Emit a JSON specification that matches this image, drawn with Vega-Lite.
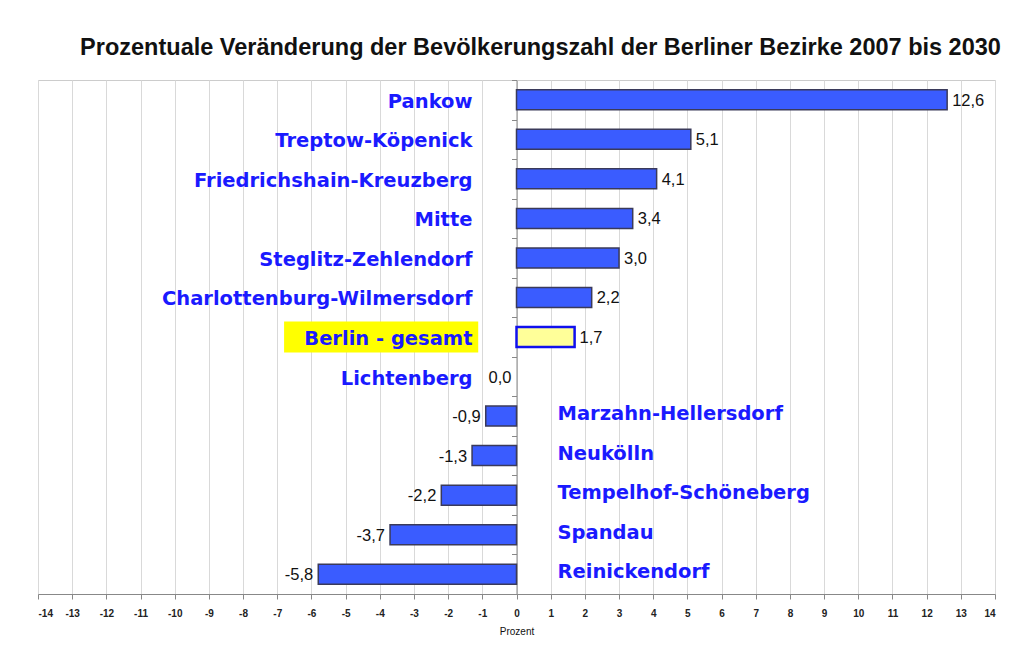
{
  "$schema": "https://vega.github.io/schema/vega-lite/v6.json",
  "autosize": "none",
  "width": 957,
  "height": 514,
  "padding": {"left": 38, "top": 80, "right": 22, "bottom": 64},
  "background": "white",
  "title": {
    "text": "Prozentuale Veränderung der Bevölkerungszahl der Berliner Bezirke 2007 bis 2030",
    "font": "Liberation Sans",
    "fontSize": 23.5,
    "fontWeight": "bold",
    "color": "#111",
    "anchor": "middle",
    "dx": 24,
    "offset": 20
  },
  "config": {
    "view": {"stroke": "#cccccc", "strokeWidth": 1},
    "font": "Liberation Sans",
    "axisX": {"tickCount": 28, "labelOverlap": false}
  },
  "data": {
    "values": [
      {"bezirk": "Pankow", "wert": 12.6, "label": "12,6", "gesamt": false},
      {"bezirk": "Treptow-Köpenick", "wert": 5.1, "label": "5,1", "gesamt": false},
      {"bezirk": "Friedrichshain-Kreuzberg", "wert": 4.1, "label": "4,1", "gesamt": false},
      {"bezirk": "Mitte", "wert": 3.4, "label": "3,4", "gesamt": false},
      {"bezirk": "Steglitz-Zehlendorf", "wert": 3.0, "label": "3,0", "gesamt": false},
      {"bezirk": "Charlottenburg-Wilmersdorf", "wert": 2.2, "label": "2,2", "gesamt": false},
      {"bezirk": "Berlin - gesamt", "wert": 1.7, "label": "1,7", "gesamt": true},
      {"bezirk": "Lichtenberg", "wert": 0.0, "label": "0,0", "gesamt": false},
      {"bezirk": "Marzahn-Hellersdorf", "wert": -0.9, "label": "-0,9", "gesamt": false},
      {"bezirk": "Neukölln", "wert": -1.3, "label": "-1,3", "gesamt": false},
      {"bezirk": "Tempelhof-Schöneberg", "wert": -2.2, "label": "-2,2", "gesamt": false},
      {"bezirk": "Spandau", "wert": -3.7, "label": "-3,7", "gesamt": false},
      {"bezirk": "Reinickendorf", "wert": -5.8, "label": "-5,8", "gesamt": false}
    ]
  },
  "encoding": {
    "y": {
      "field": "bezirk",
      "type": "nominal",
      "sort": ["Pankow", "Treptow-Köpenick", "Friedrichshain-Kreuzberg", "Mitte", "Steglitz-Zehlendorf", "Charlottenburg-Wilmersdorf", "Berlin - gesamt", "Lichtenberg", "Marzahn-Hellersdorf", "Neukölln", "Tempelhof-Schöneberg", "Spandau", "Reinickendorf"],
      "scale": {"paddingInner": 0, "paddingOuter": 0},
      "axis": {
        "labels": false,
        "title": null,
        "offset": -478.5,
        "tickBand": "extent",
        "tickSize": 5,
        "tickColor": "#888888",
        "domainColor": "#888888",
        "grid": false
      }
    }
  },
  "layer": [
    {
      "transform": [{"filter": "datum.wert != 0"}],
      "mark": {"type": "bar", "height": 20},
      "encoding": {
        "x": {
          "field": "wert",
          "type": "quantitative",
          "scale": {"domain": [-14, 14], "nice": false, "zero": false},
          "axis": {
            "tickCount": 28,
            "labelExpr": "'' + datum.value",
            "labelOverlap": false,
            "grid": true,
            "gridColor": "#d9d9d9",
            "domainColor": "#888888",
            "tickColor": "#888888",
            "tickSize": 5,
            "labelFontSize": 10,
            "labelFontWeight": "bold",
            "labelColor": "#222222",
            "labelPadding": 9,
            "title": "Prozent",
            "titleFontSize": 10,
            "titleFontWeight": "normal",
            "titleColor": "#111111",
            "titlePadding": 8
          }
        },
        "x2": {"datum": 0},
        "fill": {
          "field": "gesamt",
          "type": "nominal",
          "scale": {"domain": [false, true], "range": ["#3a5cff", "#ffff99"]},
          "legend": null
        },
        "stroke": {
          "field": "gesamt",
          "type": "nominal",
          "scale": {"domain": [false, true], "range": ["#3a3a5a", "#1010ee"]},
          "legend": null
        },
        "strokeWidth": {
          "field": "gesamt",
          "type": "nominal",
          "scale": {"domain": [false, true], "range": [1.5, 2.5]},
          "legend": null
        }
      }
    },
    {
      "transform": [{"filter": "datum.gesamt"}],
      "mark": {"type": "bar", "height": 31, "color": "#ffff00"},
      "encoding": {
        "x": {"datum": -6.8, "type": "quantitative"},
        "x2": {"datum": -1.12}
      }
    },
    {
      "transform": [{"filter": "datum.wert > 0"}],
      "mark": {"type": "text", "align": "left", "dx": 5, "dy": 1, "fontSize": 16.5, "color": "#111111"},
      "encoding": {
        "x": {"field": "wert", "type": "quantitative"},
        "text": {"field": "label"}
      }
    },
    {
      "transform": [{"filter": "datum.wert <= 0"}],
      "mark": {"type": "text", "align": "right", "dx": -5, "dy": 1, "fontSize": 16.5, "color": "#111111"},
      "encoding": {
        "x": {"field": "wert", "type": "quantitative"},
        "text": {"field": "label"}
      }
    },
    {
      "transform": [{"filter": "datum.wert >= 0"}],
      "mark": {"type": "text", "align": "right", "dx": -44, "dy": 2, "font": "DejaVu Sans", "fontSize": 19.5, "fontWeight": "bold", "color": "#1a1aff"},
      "encoding": {
        "x": {"datum": 0, "type": "quantitative"},
        "text": {"field": "bezirk"}
      }
    },
    {
      "transform": [{"filter": "datum.wert < 0"}],
      "mark": {"type": "text", "align": "left", "dx": 41, "dy": -2, "font": "DejaVu Sans", "fontSize": 19.5, "fontWeight": "bold", "color": "#1a1aff"},
      "encoding": {
        "x": {"datum": 0, "type": "quantitative"},
        "text": {"field": "bezirk"}
      }
    }
  ]
}
